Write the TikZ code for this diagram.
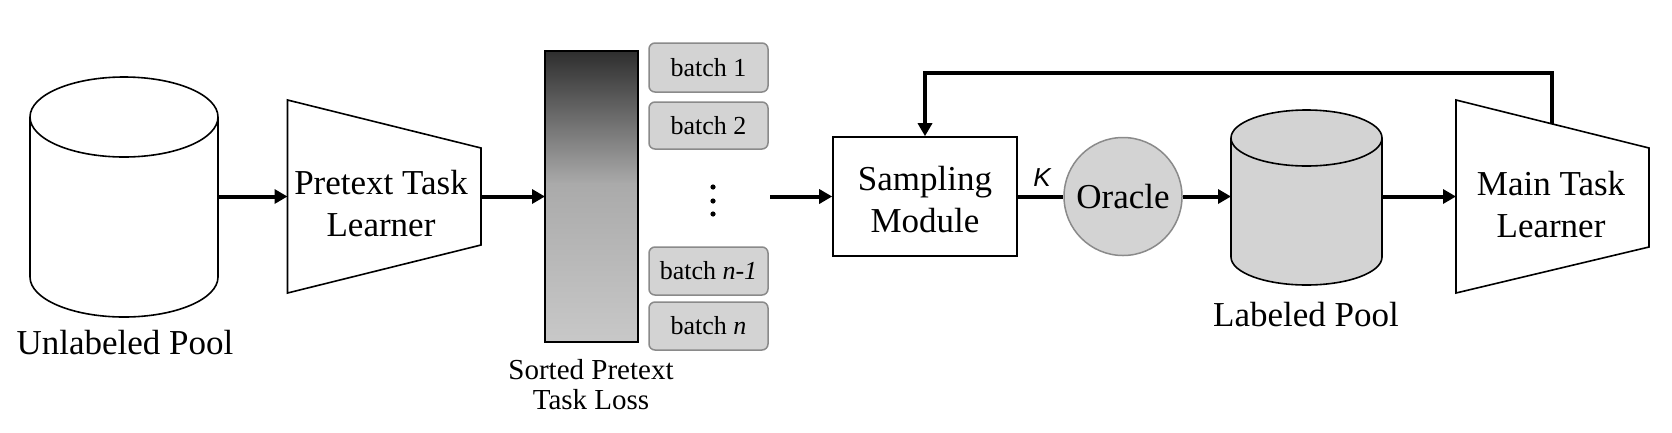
\documentclass[tikz,border=0pt]{standalone}
\usepackage{fontspec}
\setmainfont{Liberation Serif}
\setsansfont{Liberation Sans}
\usetikzlibrary{arrows.meta,calc}
\definecolor{fillgray}{HTML}{D3D3D3}
\definecolor{edgegray}{HTML}{8A8A8A}
\definecolor{bartop}{HTML}{2E2E2E}
\definecolor{barmid}{HTML}{AAAAAA}
\definecolor{barbot}{HTML}{C8C8C8}
\tikzset{
  flow/.style={line width=4pt, -{Triangle[length=13pt,width=14pt]}},
  plainflow/.style={line width=4pt},
  outline/.style={draw=black, line width=1.6pt},
  batchbox/.style={draw=edgegray, fill=fillgray, line width=1.5pt, rounded corners=6pt, minimum width=119, inner sep=0pt, font=\fontsize{26}{30}\selectfont},
  anchorbox/.style={inner sep=0pt, outer sep=0pt},
  bigtext/.style={font=\fontsize{35}{42}\selectfont, align=center},
}
\begin{document}
\begin{tikzpicture}[x=1pt,y=-1pt]
\useasboundingbox[fill=white] (0,0) rectangle (1672,432);
% Unlabeled pool
\node[anchorbox, minimum width=188, minimum height=241] (up) at (124,196.5) {};
\filldraw[outline, fill=white] (30,117) -- (30,277) arc[start angle=180, end angle=0, x radius=94, y radius=40] -- (218,117);
\draw[outline] (124,117) ellipse [x radius=94, y radius=40];
\node[bigtext] (uplabel) at (125,343) {Unlabeled Pool};
% Pretext task learner
\node[anchorbox, minimum width=193.5, minimum height=193] (pt) at (384.25,196.5) {};
\draw[outline] (pt.north west) -- (481,148) -- (481,245) -- (pt.south west) -- cycle;
\node[bigtext] (pttext) at (381,204) {Pretext Task\\Learner};
% Sorted loss bar
\shade[top color=bartop, bottom color=barmid] (545,51) rectangle (638,184);
\shade[top color=barmid, bottom color=barbot] (545,183.5) rectangle (638,342);
\node[anchorbox, minimum width=93, minimum height=291, draw=black, line width=1.2pt] (bar) at (591.5,196.5) {};
\node[font=\fontsize{29}{30}\selectfont, align=center] (sortlabel) at (591,385) {Sorted Pretext\\Task Loss};
% Batches
\node[batchbox, minimum height=49] (b1) at (708.5,67.5) {batch 1};
\node[batchbox, minimum height=47] (b2) at (708.5,125.5) {batch 2};
\node[batchbox, minimum height=48] (bn1) at (708.5,271) {batch \textit{n-1}};
\node[batchbox, minimum height=48] (bn) at (708.5,326) {batch \textit{n}};
\fill (713,187) circle[radius=2.6];
\fill (713,201) circle[radius=2.6];
\fill (713,214) circle[radius=2.6];
% Sampling module
\node[draw, line width=1.6pt, minimum width=184, minimum height=119] (sm) at (925,196.5) {};
\node[bigtext] (smtext) at (925,200) {Sampling\\Module};
% Oracle
\node[circle, draw=edgegray, fill=fillgray, line width=1.5pt, minimum size=118, inner sep=0pt, bigtext] (or) at (1123,196.5) {Oracle};
\node[font=\sffamily\itshape\fontsize{26}{30}\selectfont] (klabel) at (1042,178) {K};
% Labeled pool
\node[anchorbox, minimum width=151, minimum height=175] (lp) at (1306.5,196.5) {};
\filldraw[outline, fill=fillgray] (1231,138) -- (1231,257) arc[start angle=180, end angle=0, x radius=75.5, y radius=28] -- (1382,138);
\draw[outline, fill=fillgray] (1306.5,138) ellipse [x radius=75.5, y radius=28];
\node[bigtext] (lplabel) at (1306,315) {Labeled Pool};
% Main task learner
\node[anchorbox, minimum width=193, minimum height=193] (mt) at (1552.5,196.5) {};
\draw[outline] (mt.north west) -- (1649,148) -- (1649,247) -- (mt.south west) -- cycle;
\node[bigtext] (mttext) at (1551,205) {Main Task\\Learner};
% Connectors
\draw[flow] (up.east) -- (pt.west);
\draw[flow] (pt.east) -- (bar.west);
\coordinate (bout) at (770,196.5);
\draw[flow] (bout) -- (sm.west);
\draw[plainflow] (sm.east) -- (or.west);
\draw[flow] (or.east) -- (lp.west);
\draw[flow] (lp.east) -- (mt.west);
\coordinate (fb) at (1552,124.4);
\draw[flow] (fb) -- (1552,73) -| (sm.north);
\end{tikzpicture}
\end{document}
